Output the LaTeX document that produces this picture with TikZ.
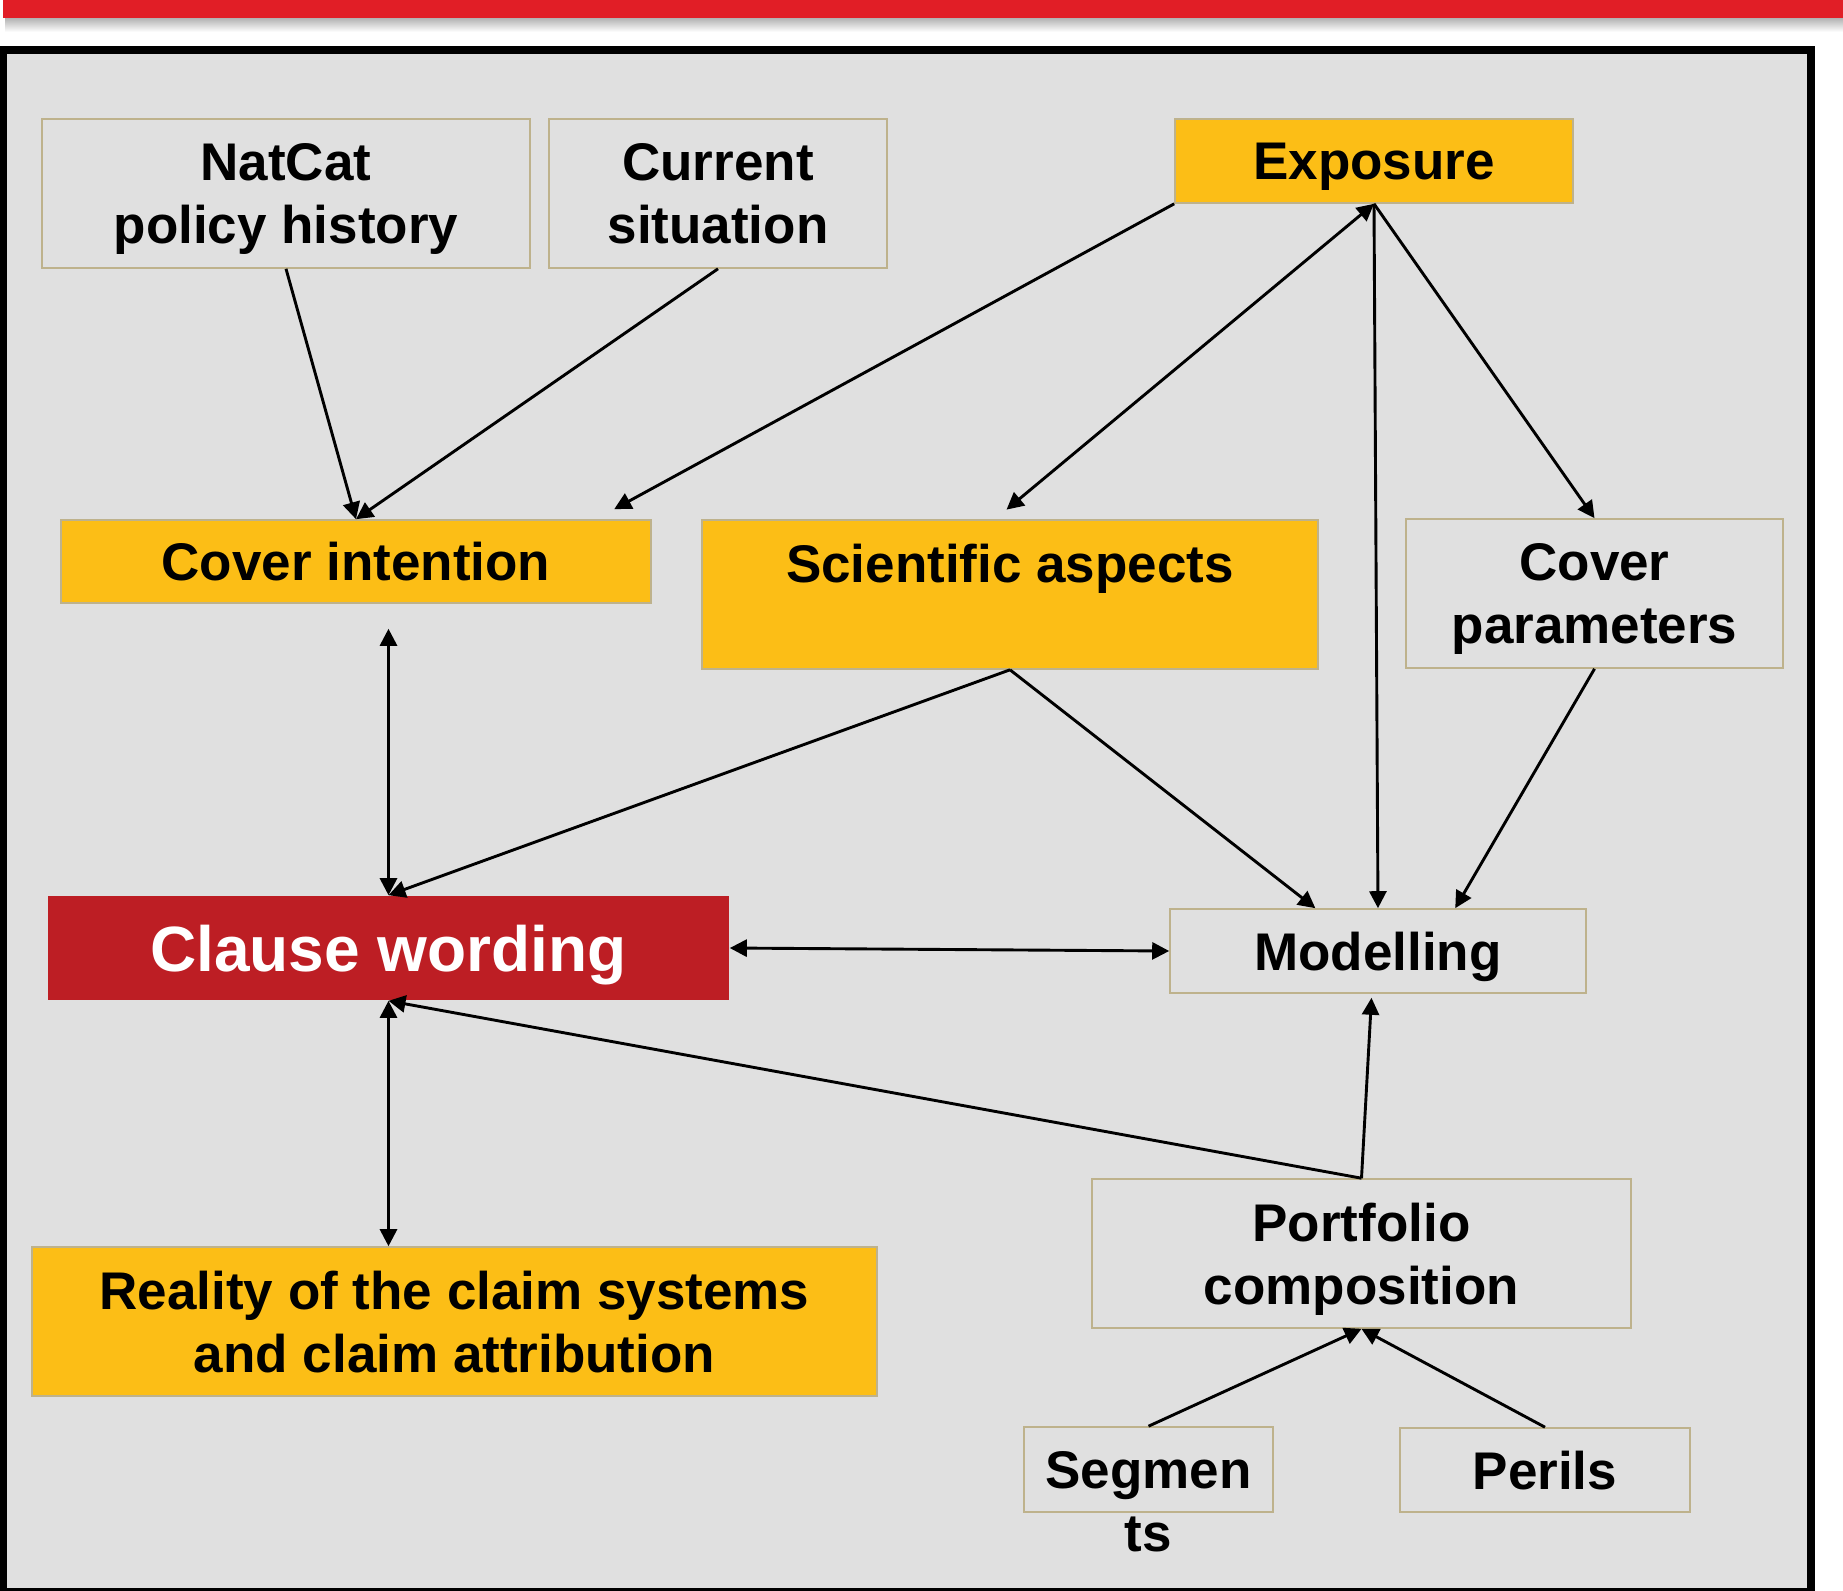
\documentclass[tikz,border=0pt]{standalone}
\usepackage{fontspec}
\setmainfont{Liberation Sans}
\usetikzlibrary{arrows.meta,calc}

\definecolor{barred}{RGB}{225,30,38}
\definecolor{panelgray}{RGB}{224,224,224}
\definecolor{boxgold}{RGB}{252,190,22}
\definecolor{clausered}{RGB}{189,30,36}
\definecolor{boxline}{RGB}{190,178,140}

\tikzset{
  box/.style={draw=boxline, line width=0.8pt, inner sep=0pt, align=center,
    text depth=0pt, font=\fontsize{26.5}{31.5}\selectfont\bfseries},
  goldbox/.style={box, fill=boxgold},
  clausebox/.style={box, draw=none, fill=clausered, text=white,
    font=\fontsize{32}{38}\selectfont\bfseries},
  lbl/.style={inner sep=0pt, font=\fontsize{26.5}{31.5}\selectfont\bfseries},
  arr/.style={-{Triangle[length=8.5pt,width=8.5pt]}, line width=1.45pt},
  biarr/.style={{Triangle[length=8.5pt,width=8.5pt]}-{Triangle[length=8.5pt,width=8.5pt]}, line width=1.45pt},
}

\begin{document}
\begin{tikzpicture}[x=0.5pt,y=0.5pt,yscale=-1,xscale=1]
    \useasboundingbox (0,0) rectangle (1843,1591);

    %Shape: Rectangle (top bar and its shadow)
    \shade [top color=black!30, bottom color=white] (5,18) rectangle (1843,32);
    \fill [barred] (3,0) rectangle (1843,18);
    %Shape: Rectangle (frame)
    \fill [black] (0,46) rectangle (1815,1600);
    \fill [panelgray] (7,54) rectangle (1807,1588);

    % Text Node
    \node [box, minimum width=244pt, minimum height=74.5pt] (natcat) at (286,193.5) {NatCat\\policy history};
    % Text Node
    \node [box, minimum width=169pt, minimum height=74.5pt] (cursit) at (718,193.5) {Current\\situation};
    % Text Node
    \node [goldbox, minimum width=199pt, minimum height=42pt] (exposure) at (1374,161) {Exposure};
    % Text Node
    \node [goldbox, minimum width=295pt, minimum height=41.5pt] (coverint) at (356,561.5) {Cover intention};
    % Text Node
    \node [goldbox, minimum width=308pt, minimum height=74.5pt] (sci) at (1010,594.5) {Scientific aspects\\ \mbox{}};
    % Text Node
    \node [box, minimum width=188.5pt, minimum height=74.5pt] (cparam) at (1594.5,593.5) {Cover\\parameters};
    % Text Node
    \node [clausebox, minimum width=340.5pt, minimum height=52pt] (clause) at (388.5,948) {Clause wording};
    % Text Node
    \node [box, minimum width=208pt, minimum height=42pt] (model) at (1378,951) {Modelling};
    % Text Node
    \node [goldbox, minimum width=422.5pt, minimum height=74.5pt] (reality) at (454.5,1321.5) {Reality of the claim systems\\and claim attribution};
    % Text Node
    \node [box, minimum width=269.5pt, minimum height=74.5pt] (port) at (1361.5,1253.5) {Portfolio\\composition};
    % Text Node
    \node [box, minimum width=124.5pt, minimum height=42.5pt] (seg) at (1148.5,1469.5) {Segmen};
    \node [lbl, anchor=base] (segrest) at ([yshift=31.5pt]seg.base) {ts};
    % Text Node
    \node [box, minimum width=145pt, minimum height=42pt] (perils) at (1545,1470) {Perils};

    %Straight Lines
    \draw [arr] (natcat.south) -- (coverint.north);
    \draw [arr] (cursit.south) -- (coverint.north);
    \draw [arr, shorten >=10.5pt] (exposure.south west) -- ($(coverint.north east)+(-56,0)$);
    \draw [biarr, shorten >=7.5pt] (exposure.south) -- ($(sci.north)+(-15,0)$);
    \draw [arr] (exposure.south) -- (model.north);
    \draw [arr] (exposure.south) -- (cparam.north);
    \draw [biarr, shorten >=12.5pt] (clause.north) -- (clause.north |- coverint.south);
    \draw [arr] (sci.south) -- (clause.north);
    \draw [arr] (sci.south) -- ($(model.north west)!0.35!(model.north east)$);
    \draw [arr] (cparam.south) -- ($(model.north west)!0.685!(model.north east)$);
    \draw [biarr] (clause.east) -- (model.west);
    \draw [biarr] (clause.south) -- (clause.south |- reality.north);
    \draw [arr, shorten >=2pt] (port.north) -- ($(model.south west)!0.485!(model.south east)$);
    \draw [arr] (port.north) -- (clause.south);
    \draw [arr] (seg.north) -- (port.south);
    \draw [arr] (perils.north) -- (port.south);
\end{tikzpicture}
\end{document}
